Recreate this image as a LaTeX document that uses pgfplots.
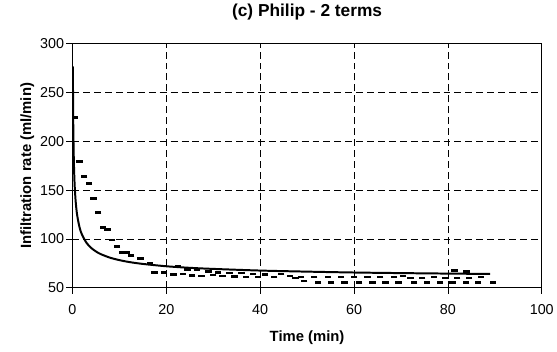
\documentclass[border=0pt]{standalone}
\usepackage{pgfplots}
\pgfplotsset{compat=1.18}
\usepackage{fontspec}
\setmainfont{Liberation Sans}
\begin{document}
\begin{tikzpicture}
\begin{axis}[
  name=ax,
  scale only axis,
  width=473bp, height=246bp,
  xmin=0, xmax=100, ymin=50, ymax=300,
  xtick={0,20,...,100}, ytick={50,100,...,300},
  tick align=outside, tick pos=left,
  major tick length=6bp,
  grid=major,
  grid style={black, dash pattern=on 7bp off 4bp, line width=0.6pt},
  axis line style={black, line width=1pt},
  tick style={black, line width=0.7pt},
  /pgf/number format/assume math mode=true,
  ticklabel style={font=\fontsize{14.5}{17}\selectfont},
  xticklabel style={yshift=-7bp},
  yticklabel style={xshift=1bp},
  xlabel={\textbf{Time (min)}},
  ylabel={\textbf{Infiltration rate (ml/min)}},
  label style={font=\fontsize{15}{18}\selectfont},
  title={\textbf{(c) Philip - 2 terms}},
  title style={font=\fontsize{17.5}{20}\selectfont, at={(axis description cs:0.5,1.1057)}, anchor=center},
  xlabel style={at={(axis description cs:0.5,-0.2033)}, anchor=center},
  ylabel style={at={(axis description cs:-0.096,0.5)}, anchor=center},
]
\addplot[only marks, mark=-, mark size=3.2bp, mark options={line width=2.8bp, black}] coordinates {
(0.5,224)(1.5,179)(2.5,164)(3.5,157)(4.5,141.5)(5.5,127)(6.5,111.5)(7.5,110)(8.5,99)(9.5,92.5)(10.5,86)(11.5,86)(12.5,83)(14.5,80)(16.5,75)
(17.5,66)(19.5,66)(21.5,63.5)(22.5,72)(23.5,64)(24.5,69)(25.5,62.5)(26.5,69)(27.5,62)(29,67)(30,63)(31,66)(32,62)(33.5,65)(34.5,61.5)(36,65)(37,61)(38.5,64)(39.5,61)(41,63.5)(43,61)(44.5,64)(46.3,62)(47.5,60)(48.7,61)(49.4,57)(51.5,61)(52.3,55)(54.4,61)(55.1,55)(57.2,61)(58,55)(60,61)(61.1,55)(62.9,61)(63.9,55)(65.6,61)(66.7,55)(68.5,61)(69.5,55)(70.5,62)(72,60)(72.8,55)(74.5,60)(75.5,55)(77,61)(78.3,55)(79.5,60)(81,55)(81.4,67.5)(82,60)(84,67)(83.9,55)(84.5,60)(86.4,55)(87,61)(89.6,55)
};
\addplot[black, line width=2pt, smooth] coordinates {
(0.095,276.6)(0.15,231.7)(0.2,208.3)(0.3,180.5)(0.4,163.9)(0.5,152.6)(0.7,137.8)(1,124.6)(1.5,112.2)(2,104.8)(3,96.0)(4,90.75)(5,87.2)(6,84.5)(8,80.8)(10,78.3)(12,76.4)(15,74.4)(20,72.0)(25,70.4)(30,69.3)(40,67.6)(50,66.5)(60,65.6)(70,65.0)(80,64.5)(89,64.1)
};
\end{axis}
\path[use as bounding box] ([xshift=-73bp,yshift=-64bp]ax.south west) rectangle ([xshift=11bp,yshift=44bp]ax.north east);
\end{tikzpicture}
\end{document}
